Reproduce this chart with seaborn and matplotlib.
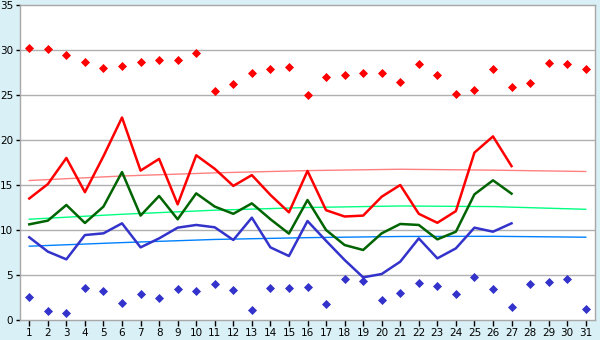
import numpy as np
import pandas as pd
import matplotlib
matplotlib.use("Agg")
import matplotlib.pyplot as plt
import seaborn as sns

days = list(range(1, 32))
line_days = list(range(1, 28))

max_points = [30.2, 30.1, 29.5, 28.7, 28.0, 28.2, 28.7, 28.85, 28.85, 29.7,
              25.4, 26.2, 27.4, 27.85, 28.1, 25.0, 27.0, 27.2, 27.4, 27.4,
              26.4, 28.5, 27.2, 25.1, 25.6, 27.85, 25.85, 26.3, 28.6, 28.5, 27.85]
min_points = [2.52, 0.96, 0.74, 3.52, 3.26, 1.85, 2.85, 2.4, 3.5, 3.2,
              3.96, 3.3, 1.07, 3.52, 3.52, 3.63, 1.74, 4.52, 4.3, 2.19,
              2.96, 4.07, 3.74, 2.85, 4.74, 3.41, 1.41, 3.96, 4.19, 4.52, 1.19]

red_line = [13.5, 15.1, 18.0, 14.2, 18.2, 22.5, 16.6, 17.9, 12.85, 18.3,
            16.8, 14.9, 16.1, 13.9, 11.96, 16.56, 12.2, 11.5, 11.6, 13.7,
            15.0, 11.8, 10.8, 12.1, 18.6, 20.4, 17.1]
green_line = [10.63, 11.04, 12.78, 10.78, 12.6, 16.44, 11.6, 13.78, 11.19, 14.07,
              12.6, 11.8, 12.96, 11.2, 9.6, 13.33, 10.0, 8.33, 7.78, 9.63,
              10.67, 10.56, 8.96, 9.81, 13.96, 15.52, 14.04]
blue_line = [9.19, 7.6, 6.74, 9.44, 9.63, 10.74, 8.07, 9.07, 10.26, 10.56,
             10.3, 8.89, 11.37, 8.07, 7.11, 11.0, 8.8, 6.67, 4.74, 5.11,
             6.48, 9.07, 6.85, 7.96, 10.26, 9.81, 10.74]

trend_days = [1, 6, 11, 16, 21, 26, 31]
red_trend = [15.5, 16.0, 16.35, 16.6, 16.75, 16.65, 16.5]
green_trend = [11.2, 11.75, 12.2, 12.5, 12.67, 12.6, 12.3]
blue_trend = [8.2, 8.6, 8.95, 9.15, 9.28, 9.3, 9.2]

y_ticks = [0, 5, 10, 15, 20, 25, 30, 35]

bg = "#d9f0f6"
fig = plt.figure(figsize=(6, 3.4), dpi=100, facecolor=bg)
ax = fig.add_axes([20 / 600, 20 / 340, 575 / 600, 315 / 340])
ax.set_facecolor("white")

for yv in y_ticks[1:-1]:
    ax.axhline(yv, color="#b0b0b0", lw=1.0, zorder=0)

sns.lineplot(x=trend_days, y=red_trend, ax=ax, color="#ff8080", lw=1.0, zorder=2)
sns.lineplot(x=trend_days, y=green_trend, ax=ax, color="#00ff80", lw=1.0, zorder=2)
sns.lineplot(x=trend_days, y=blue_trend, ax=ax, color="#0080ff", lw=1.0, zorder=2)

sns.lineplot(x=line_days, y=red_line, ax=ax, color="#ff0000", lw=1.8, zorder=3)
sns.lineplot(x=line_days, y=green_line, ax=ax, color="#006400", lw=1.8, zorder=3)
sns.lineplot(x=line_days, y=blue_line, ax=ax, color="#3333cc", lw=1.8, zorder=3)

sns.scatterplot(x=days, y=max_points, ax=ax, color="#ff0000", marker="D", s=16,
                linewidth=0.6, edgecolor="#ff0000", zorder=4)
sns.scatterplot(x=days, y=min_points, ax=ax, color="#3333cc", marker="D", s=16,
                linewidth=0.6, edgecolor="#3333cc", zorder=4)

ax.set_xlim(0.5, 31.5)
ax.set_ylim(0, 35)
ax.set_xticks(days)
ax.set_xticklabels([str(d) for d in days])
ax.set_yticks(y_ticks)
ax.set_yticklabels([str(v) for v in y_ticks])
for s in ["left", "right", "top", "bottom"]:
    ax.spines[s].set_color("#a8a8a8")
    ax.spines[s].set_linewidth(1.0)
ax.tick_params(axis="both", colors="black", labelsize=7.5, length=4, width=1,
               pad=2)
ax.tick_params(axis="y", length=3)
ax.set_xlabel("")
ax.set_ylabel("")

fig.savefig("out.png", dpi=100, facecolor=bg)
